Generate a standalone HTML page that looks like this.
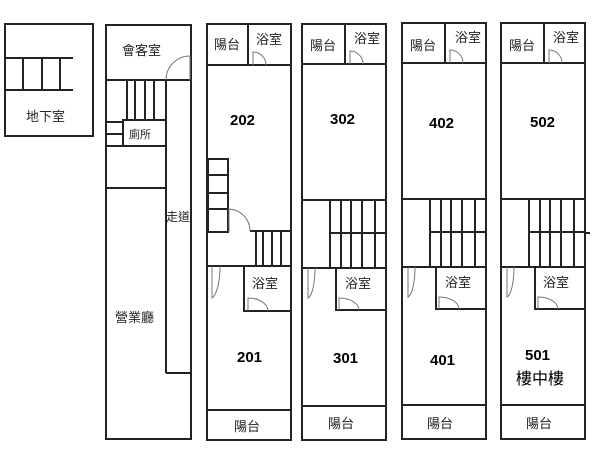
<!DOCTYPE html>
<html><head><meta charset="utf-8"><style>
html,body{margin:0;padding:0;background:#fff;}
svg{display:block;}
text{font-family:"Liberation Sans","Noto Sans CJK TC",sans-serif;fill:#222;}
.c{font-size:13px;}
.b{font-size:15px;font-weight:bold;fill:#000;}
</style></head><body>
<svg width="600" height="451" viewBox="0 0 600 451" xmlns="http://www.w3.org/2000/svg">
<g fill="none" stroke="#222" stroke-width="2">
<!-- basement -->
<rect x="5" y="24" width="88" height="112"/>
<line x1="5" y1="58" x2="73" y2="58"/><line x1="5" y1="90" x2="73" y2="90"/>
<line x1="23" y1="58" x2="23" y2="90"/><line x1="42" y1="58" x2="42" y2="90"/><line x1="60" y1="58" x2="60" y2="90"/>
<!-- building 1 -->
<rect x="106" y="25" width="85" height="414"/>
<line x1="106" y1="80" x2="191" y2="80"/>
<line x1="166" y1="80" x2="166" y2="373"/><line x1="166" y1="373" x2="191" y2="373"/>
<line x1="127" y1="80" x2="127" y2="120"/><line x1="135" y1="80" x2="135" y2="120"/><line x1="145" y1="80" x2="145" y2="120"/><line x1="154" y1="80" x2="154" y2="120"/>
<rect x="123" y="120" width="43" height="26"/>
<line x1="106" y1="122" x2="123" y2="122"/><line x1="106" y1="134" x2="123" y2="134"/>
<line x1="106" y1="146" x2="166" y2="146"/>
<line x1="106" y1="188" x2="166" y2="188"/>
<!-- building 2 -->
<rect x="207" y="24" width="84" height="416"/>
<line x1="207" y1="65" x2="291" y2="65"/><line x1="248" y1="24" x2="248" y2="65"/>
<rect x="208" y="159" width="20" height="73"/>
<line x1="208" y1="175" x2="228" y2="175"/><line x1="208" y1="193" x2="228" y2="193"/><line x1="208" y1="209" x2="228" y2="209"/>
<line x1="250" y1="231" x2="291" y2="231"/>
<line x1="256" y1="231" x2="256" y2="266"/><line x1="263" y1="231" x2="263" y2="266"/><line x1="272" y1="231" x2="272" y2="266"/><line x1="281" y1="231" x2="281" y2="266"/>
<line x1="207" y1="266" x2="291" y2="266"/>
<polyline points="244,266 244,311 291,311"/>
<line x1="207" y1="410" x2="291" y2="410"/>
<!-- buildings 3-5 -->
<g id="b3">
<rect x="302" y="24" width="84" height="416"/>
<line x1="302" y1="64" x2="386" y2="64"/><line x1="345" y1="24" x2="345" y2="64"/>
<line x1="302" y1="200" x2="386" y2="200"/>
<line x1="330" y1="233" x2="386" y2="233"/>
<line x1="330" y1="200" x2="330" y2="268"/><line x1="341" y1="200" x2="341" y2="268"/><line x1="351" y1="200" x2="351" y2="268"/><line x1="362" y1="200" x2="362" y2="268"/><line x1="375" y1="200" x2="375" y2="268"/>
<line x1="302" y1="268" x2="386" y2="268"/>
<polyline points="336,268 336,310 386,310"/>
<line x1="302" y1="406" x2="386" y2="406"/>
</g>
<use href="#b3" x="100" y="-1"/>
<use href="#b3" x="199" y="-1"/>
<line x1="585" y1="233" x2="590" y2="233"/>
</g>
<!-- door arcs -->
<g fill="none" stroke="#777" stroke-width="1">
<path d="M166 80 A24 24 0 0 1 190 56 L190 80"/>
<path d="M253 65 L253 52 A13 13 0 0 1 266 65"/>
<path d="M228 209 A22 22 0 0 1 250 231"/><line x1="229" y1="209" x2="229" y2="232"/>
<path d="M212 266 L212 298 A10 32 0 0 0 220 266"/>
<path d="M248 311 L248 298 A20 13 0 0 1 268 311"/>
<g id="d3">
<path d="M350 64 L350 51 A13 13 0 0 1 363 64"/>
<path d="M308 268 L308 298 A8 30 0 0 0 315 268"/>
<path d="M339 310 L339 298 A20 12 0 0 1 359 310"/>
</g>
<use href="#d3" x="100" y="-1"/>
<use href="#d3" x="199" y="-1"/>
</g>
<!-- labels -->
<text class="c" x="26" y="121">地下室</text>
<text class="c" x="122" y="55">會客室</text>
<text x="129" y="138" style="font-size:11px">廁所</text>
<text x="166" y="221" style="font-size:12px">走道</text>
<text class="c" x="115" y="322">營業廳</text>
<text class="c" x="214" y="49">陽台</text><text class="c" x="256" y="44">浴室</text>
<text class="b" x="230" y="125">202</text>
<text class="c" x="252" y="288">浴室</text>
<text class="b" x="237" y="362">201</text>
<text class="c" x="234" y="431">陽台</text>
<text class="c" x="310" y="50">陽台</text><text class="c" x="354" y="43">浴室</text>
<text class="b" x="330" y="124">302</text>
<text class="c" x="345" y="288">浴室</text>
<text class="b" x="333" y="363">301</text>
<text class="c" x="328" y="428">陽台</text>
<text class="c" x="410" y="50">陽台</text><text class="c" x="455" y="42">浴室</text>
<text class="b" x="429" y="128">402</text>
<text class="c" x="445" y="287">浴室</text>
<text class="b" x="430" y="365">401</text>
<text class="c" x="427" y="428">陽台</text>
<text class="c" x="509" y="50">陽台</text><text class="c" x="553" y="42">浴室</text>
<text class="b" x="530" y="127">502</text>
<text class="c" x="543" y="287">浴室</text>
<text class="b" x="525" y="360">501</text>
<text x="516" y="384" style="font-size:16px;fill:#000">樓中樓</text>
<text class="c" x="526" y="428">陽台</text>
</svg>
</body></html>
